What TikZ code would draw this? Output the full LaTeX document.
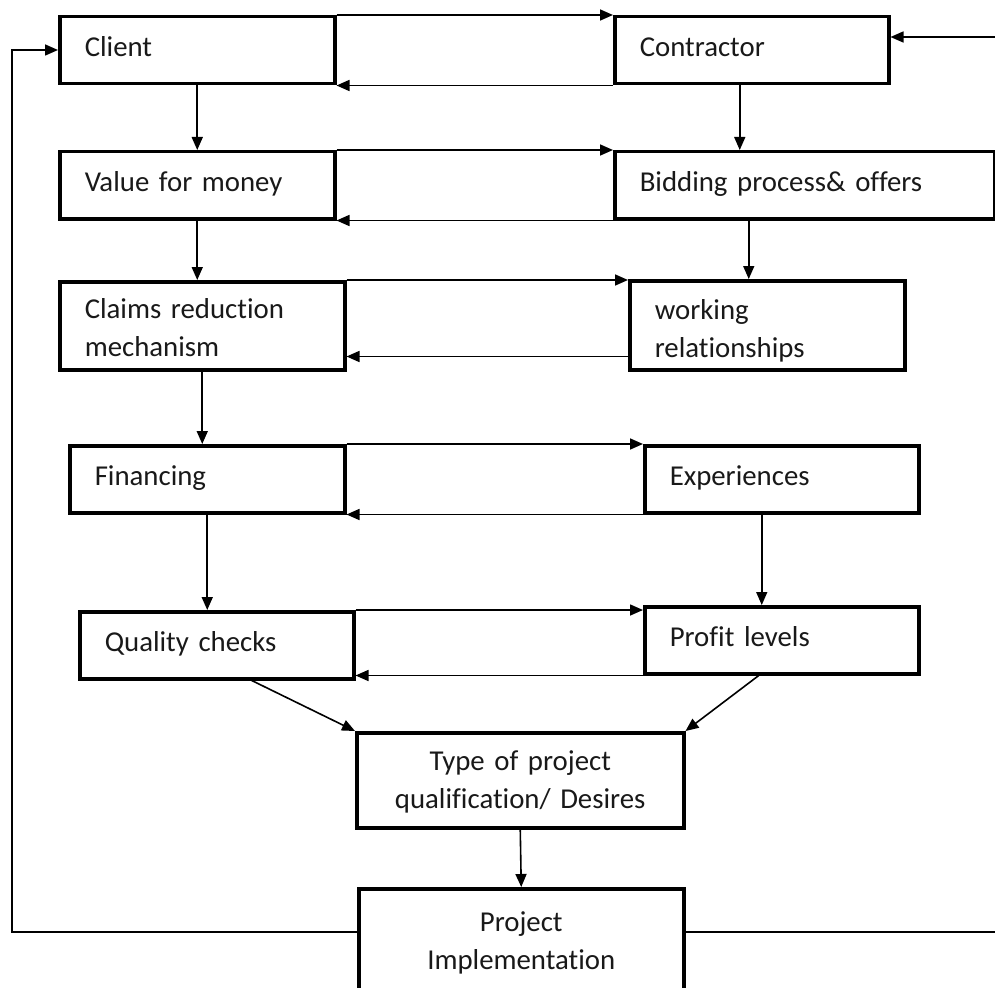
\documentclass[tikz,border=0pt]{standalone}
\usepackage{fontspec}
\setmainfont{Carlito}[Ligatures={NoCommon, NoContextual}]
\usepackage{tikz}
\usepackage{xcolor}
\usetikzlibrary{arrows.meta, positioning, calc}
\definecolor{cInk}{RGB}{25,25,25}
\tikzset{
	blk/.style ={rectangle, draw=black, line width=3.5pt, fill=white, inner xsep=25pt, inner ysep=0pt, anchor=north west, text=cInk},
	sig/.style ={-{Triangle[length=13pt, width=11pt]}, line width=1.6pt},
}

\begin{document}
\begin{tikzpicture}[x=1pt, y=-1pt, every node/.style={font=\fontsize{28.8}{38}\selectfont},
		one/.style={blk, align=left, text height=20pt, text depth=7pt},
		two/.style={blk, align=left},
		mid/.style={blk, align=center}]
	\useasboundingbox (0,0) rectangle (995,987);
	\clip (0,0) rectangle (995,987);
	% client side
	\node[one, text width=225pt, minimum height=67pt] (client) at (58,15) {Client};
	\node[one, text width=225pt, minimum height=67pt] (value) at (58,150) {Value for money};
	\node[two, text width=235pt, minimum height=88pt] (claims) at (58,280) {\rule{0pt}{24pt}Claims reduction\\mechanism};
	\node[one, text width=225pt, minimum height=67pt] (financing) at (68,444) {Financing};
	\node[one, text width=224pt, minimum height=67pt] (quality) at (78,610) {Quality checks};
	% contractor side
	\node[one, text width=224pt, minimum height=67pt] (contractor) at (613,15) {Contractor};
	\node[one, text width=330pt, minimum height=67pt] (bidding) at (613,150) {Bidding process\& offers};
	\node[two, text width=225pt, minimum height=89pt] (working) at (628,279) {\rule{0pt}{32pt}working\\relationships};
	\node[one, text width=224pt, minimum height=67pt] (experiences) at (643,444) {Experiences};
	\node[one, text width=224pt, minimum height=67pt] (profit) at (643,605) {Profit levels};
	% joint boxes
	\node[mid, text width=277pt, minimum height=95pt] (type) at (355,731) {\rule{0pt}{24pt}Type of project\\qualification/ Desires};
	\node[mid, text width=275pt, minimum height=108pt] (project) at (357,887) {Project\\Implementation};
	\coordinate (back) at (12,50);
	\coordinate (fwd) at (1003,37);
	% across
	\draw[sig] (client.north east) -- (contractor.north west);
	\draw[sig] (contractor.south west) -- (client.south east);
	\draw[sig] (value.north east) -- (bidding.north west);
	\draw[sig] (bidding.south west) -- (value.south east);
	\draw[sig] (claims.north east) -- (claims.north east -| working.west);
	\draw[sig] ([yshift=15pt]working.south west) coordinate (wr) -- (wr -| claims.east);
	\draw[sig] (financing.north east) -- (experiences.north west);
	\draw[sig] (experiences.south west) -- (financing.south east);
	\draw[sig] (quality.north east) -- (quality.north east -| profit.west);
	\draw[sig] (profit.south west) -- (profit.south west -| quality.east);
	% down
	\draw[sig] (client.south) -- (value.north);
	\draw[sig] (value.south) -- (value.south |- claims.north);
	\draw[sig] (claims.south) -- (claims.south |- financing.north);
	\draw[sig] (financing.south) -- (financing.south |- quality.north);
	\draw[sig] ([xshift=-12pt]contractor.south) coordinate (cs) -- (cs |- bidding.north);
	\draw[sig] ([xshift=-56pt]bidding.south) coordinate (bs) -- (bs |- working.north);
	\draw[sig] ([xshift=-20pt]experiences.south) coordinate (es) -- (es |- profit.north);
	\draw[sig] ([xshift=35pt]quality.south) -- (type.north west);
	\draw[sig] ([xshift=-23pt]profit.south) -- (type.north east);
	\draw[sig] (type.south) -- (project.north);
	% feedback
	\draw[sig] ([yshift=-45pt]project.north west) -| (back) -- (back -| client.west);
	\draw[sig] ([yshift=-45pt]project.north east) -| (fwd) -- (fwd -| contractor.east);
\end{tikzpicture}
\end{document}
